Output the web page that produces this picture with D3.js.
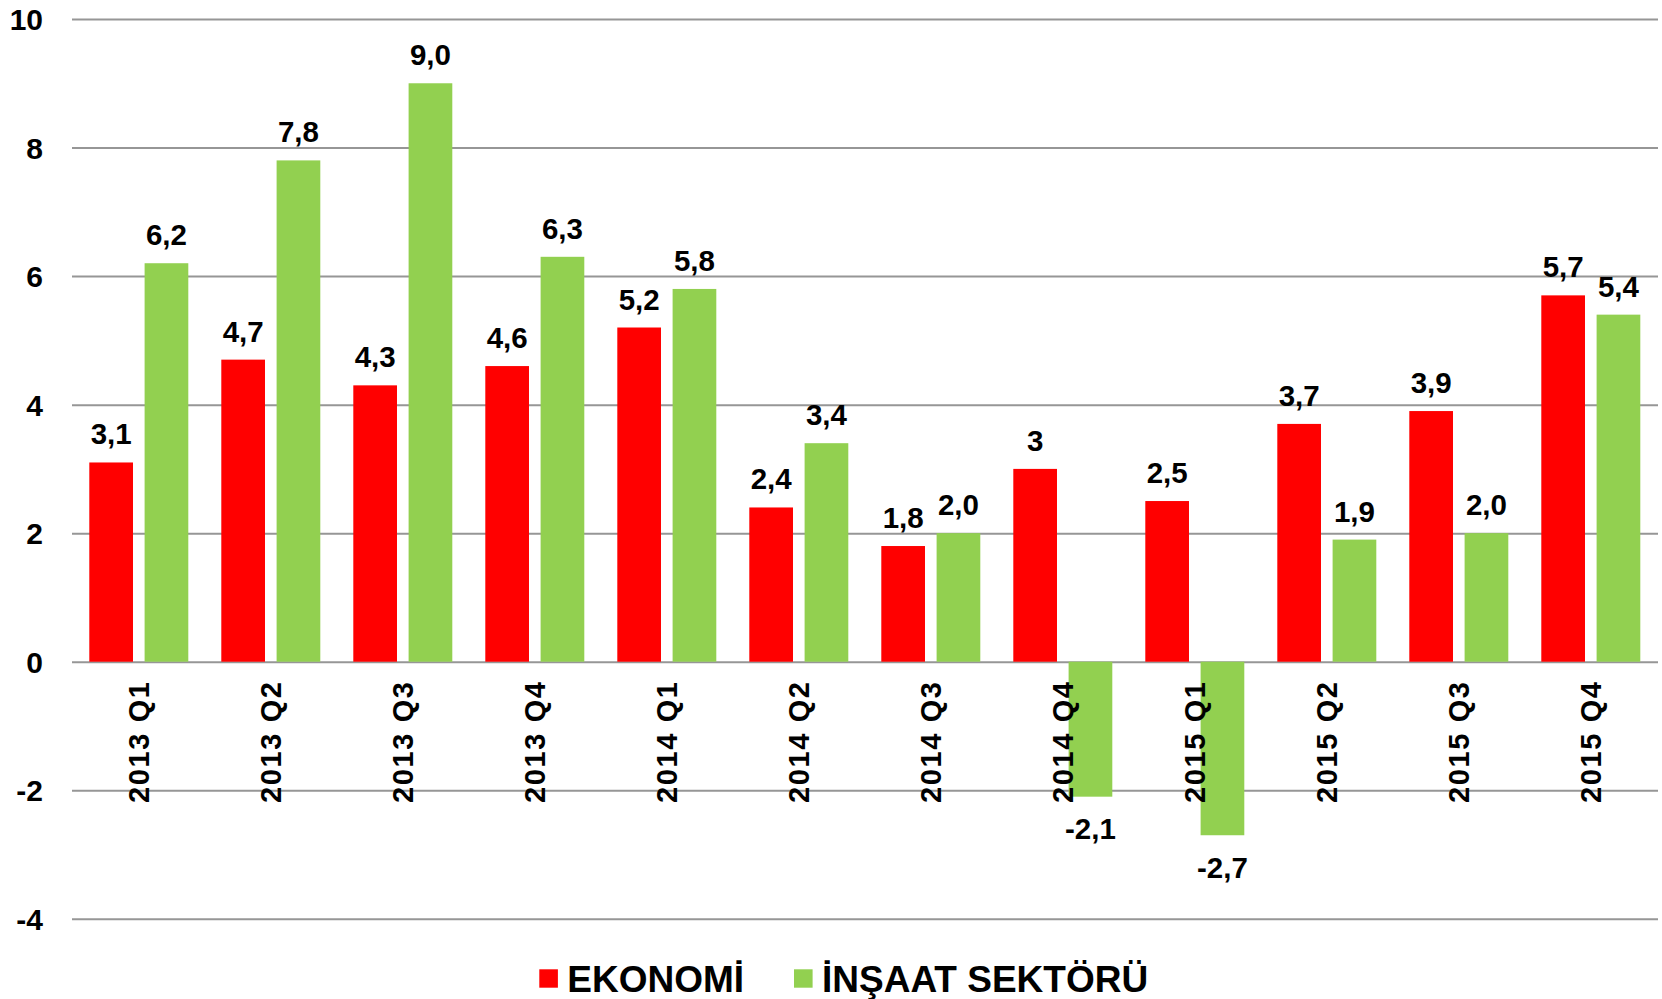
<!DOCTYPE html>
<html>
<head>
<meta charset="utf-8">
<script src="https://cdn.jsdelivr.net/npm/d3@7"></script>
<style>
  body { margin: 0; background: #fff; }
  svg text { font-family: "Liberation Sans", Arial, sans-serif; font-weight: bold; fill: #000; }
</style>
</head>
<body>
<div id="chart"></div>
<script>
// quarters on the x axis
var quarters = ["2013 Q1", "2013 Q2", "2013 Q3", "2013 Q4", "2014 Q1", "2014 Q2",
                "2014 Q3", "2014 Q4", "2015 Q1", "2015 Q2", "2015 Q3", "2015 Q4"];
// growth rates (%)
var ekonomi = [3.1, 4.7, 4.3, 4.6, 5.2, 2.4, 1.8, 3, 2.5, 3.7, 3.9, 5.7];
var insaat = [6.2, 7.8, 9.0, 6.3, 5.8, 3.4, 2.0, -2.1, -2.7, 1.9, 2.0, 5.4];
var seriesNames = ["EKONOMİ", "İNŞAAT SEKTÖRÜ"];
var yTicks = [-4, -2, 0, 2, 4, 6, 8, 10];

var colors = ["#ff0000", "#92d050"];

var svgWidth = 1662, svgHeight = 999;

var svg = d3.select("#chart")
    .append("svg")
    .attr("width", svgWidth)
    .attr("height", svgHeight);

// build rows for the grouped bars
var rows = quarters.map(function(q, i){
    return {
        quarter: q,
        values: [
            {key: seriesNames[0], value: ekonomi[i], label: String(ekonomi[i]).replace(".", ",")},
            {key: seriesNames[1], value: insaat[i], label: insaat[i].toFixed(1).replace(".", ",")}
        ]
    };
});

//scales
var x0 = d3.scaleBand()
    .domain(quarters)
    .range([72.8, 1656.8]);

var x1 = d3.scaleBand()
    .domain(seriesNames)
    .range([16.5, x0.bandwidth() - 16.5])
    .paddingInner(0.21);

var y = d3.scaleLinear()
    .domain([-4, 10])
    .range([918.8, 19]);

// gridlines + y labels via axis (plain hyphen for negatives)
var leftAxis = d3.axisLeft(y)
    .tickValues(yTicks)
    .tickSize(-(1658 - 72))
    .tickPadding(29)
    .tickFormat(function(d){ return String(d); });

var yAxisG = svg.append("g")
    .attr("transform", "translate(72,0)")
    .call(leftAxis);
yAxisG.select(".domain").remove();
yAxisG.selectAll(".tick line")
    .attr("stroke", "#969696")
    .attr("stroke-width", 2);
yAxisG.selectAll(".tick text")
    .attr("font-size", "30px")
    .attr("dy", "0.35em")
    .style("font-family", "'Liberation Sans', Arial, sans-serif")
    .style("font-weight", "bold")
    .attr("fill", "#000");

// bars
var groups = svg.selectAll(".group")
    .data(rows)
    .enter()
    .append("g")
    .attr("class", "group")
    .attr("transform", function(d){ return "translate(" + x0(d.quarter) + ",0)"; });

groups.selectAll("rect")
    .data(function(d){ return d.values; })
    .enter()
    .append("rect")
    .attr("x", function(d){ return x1(d.key); })
    .attr("y", function(d){ return y(Math.max(0, d.value)); })
    .attr("width", x1.bandwidth())
    .attr("height", function(d){ return Math.abs(y(d.value) - y(0)); })
    .attr("fill", function(d, i){ return colors[i]; });

// value labels
groups.selectAll(".val")
    .data(function(d){ return d.values; })
    .enter()
    .append("text")
    .attr("class", "val")
    .attr("x", function(d){ return x1(d.key) + x1.bandwidth() / 2; })
    .attr("y", function(d){
        return d.value >= 0 ? y(d.value) - 18 : y(d.value) + 42.5;
    })
    .attr("text-anchor", "middle")
    .attr("font-size", "29.5px")
    .text(function(d){ return d.label; });

// x labels, rotated
svg.selectAll(".xlab")
    .data(quarters)
    .enter()
    .append("text")
    .attr("class", "xlab")
    .attr("transform", function(d){
        return "translate(" + (x0(d) + x0.bandwidth() / 2) + ",682) rotate(-90)";
    })
    .attr("text-anchor", "end")
    .attr("dy", "0.36em")
    .attr("font-size", "29px")
    .attr("textLength", 121)
    .attr("lengthAdjust", "spacing")
    .text(function(d){ return d; });

// legend
var legendX = [539.3, 794];
var legend = svg.selectAll(".legend")
    .data(seriesNames)
    .enter()
    .append("g")
    .attr("class", "legend")
    .attr("transform", function(d, i){ return "translate(" + legendX[i] + ",969.3)"; });

legend.append("rect")
    .attr("width", 18.6)
    .attr("height", 18.4)
    .attr("fill", function(d, i){ return colors[i]; });

legend.append("text")
    .attr("x", 28)
    .attr("y", 22.4)
    .attr("font-size", "37px")
    .text(function(d){ return d; });
</script>
</body>
</html>
